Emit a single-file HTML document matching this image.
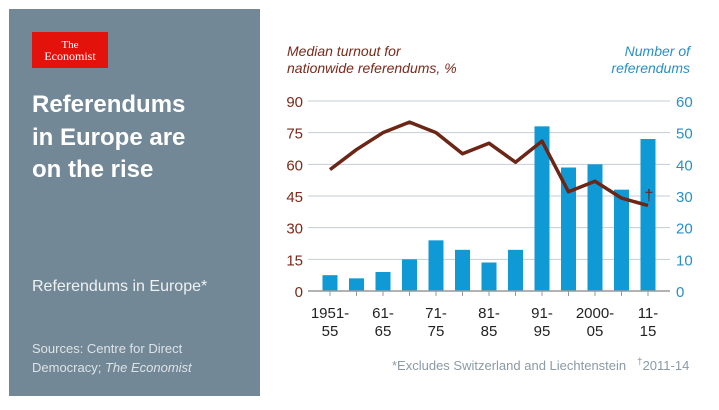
<!DOCTYPE html>
<html><head><meta charset="utf-8"><style>
body{margin:0;width:719px;height:405px;background:#fff;overflow:hidden;font-family:"Liberation Sans",sans-serif}
</style></head><body>
<svg width="719" height="405" viewBox="0 0 719 405" xmlns="http://www.w3.org/2000/svg">
<rect x="9" y="9" width="251" height="387" fill="#738896"/>
<rect x="32" y="32" width="76" height="36" fill="#e3120b"/>
<text x="70" y="48" fill="#fff" font-family="Liberation Serif,serif" font-size="11" text-anchor="middle">The</text>
<text x="70" y="60" fill="#fff" font-family="Liberation Serif,serif" font-size="12" text-anchor="middle">Economist</text>
<g fill="#fff" font-size="24" font-weight="bold">
<text x="32" y="112">Referendums</text><text x="32" y="145">in Europe are</text><text x="32" y="177">on the rise</text></g>
<text x="32" y="291" fill="#eef1f3" font-size="16">Referendums in Europe*</text>
<text x="32" y="353" fill="#dde3e7" font-size="13">Sources: Centre for Direct</text>
<text x="32" y="372" fill="#dde3e7" font-size="13">Democracy; <tspan font-style="italic">The Economist</tspan></text>
<text x="287" y="56" fill="#7a2a1a" font-size="14" font-style="italic">Median turnout for</text>
<text x="287" y="73" fill="#7a2a1a" font-size="14" font-style="italic">nationwide referendums, %</text>
<text x="690" y="56" fill="#2a8fc4" font-size="14" font-style="italic" text-anchor="end">Number of</text>
<text x="690" y="73" fill="#2a8fc4" font-size="14" font-style="italic" text-anchor="end">referendums</text>
<g id="plot"></g>
<text x="392" y="370" fill="#8a9aa6" font-size="13">*Excludes Switzerland and Liechtenstein</text>
<text x="637" y="370" fill="#8a9aa6" font-size="13"><tspan font-size="10" dy="-5">†</tspan><tspan dy="5">2011-14</tspan></text>
</svg>
<script>
const categories=["1951-55","56-60","61-65","66-70","71-75","76-80","81-85","86-90","91-95","96-2000","2000-05","06-10","11-15"];
const xLabelsTop=["1951-","61-","71-","81-","91-","2000-","11-"];
const xLabelsBottom=["55","65","75","85","95","05","15"];
const referendums=[5,4,6,10,16,13,9,13,52,39,40,32,48];
const turnout=[57.5,67,75,80,75,65,70,61,71,47,52,44,40.5];
const leftTicks=[0,15,30,45,60,75,90];
const rightTicks=[0,10,20,30,40,50,60];
const NS="http://www.w3.org/2000/svg",g=document.getElementById("plot");
const x0=330,step=26.5,yb=291,yt=101;
const X=i=>x0+i*step, YL=v=>yb-(v/90)*(yb-yt), YR=v=>yb-(v/60)*(yb-yt);
function mk(t,a,p){const e=document.createElementNS(NS,t);for(const k in a)e.setAttribute(k,a[k]);(p||g).appendChild(e);return e;}
leftTicks.forEach((v,i)=>{
 const l=mk("line",{x1:308,x2:670,y1:YL(v),y2:YL(v),stroke:"#c2cdd4","stroke-width":1});
 
 
 const t=mk("text",{x:303,y:YL(v)+6,fill:"#7a2a1a","font-size":15,"text-anchor":"end"});t.textContent=v;
 
 
 const r=mk("text",{x:676,y:YR(rightTicks[i])+6,fill:"#2a8fc4","font-size":15});r.textContent=rightTicks[i];
 
 
});
referendums.forEach((v,i)=>{
 const b=mk("rect",{x:X(i)-7.5,y:YR(v),width:15,height:yb-YR(v),fill:"#0f9ad6"});
 
 
});
const ax=mk("line",{x1:308,x2:670,y1:yb,y2:yb,stroke:"#999","stroke-width":1.5});


categories.forEach((c,i)=>{const t=mk("line",{x1:X(i),x2:X(i),y1:yb,y2:yb+5,stroke:"#999"});
 
 });
xLabelsTop.forEach((s,k)=>{
 const t=mk("text",{x:X(2*k),y:318,fill:"#222","font-size":15,"text-anchor":"middle"});t.textContent=s;
 
 
 const b=mk("text",{x:X(2*k),y:336,fill:"#222","font-size":15,"text-anchor":"middle"});b.textContent=xLabelsBottom[k];
 
 
});
const p=mk("polyline",{points:turnout.map((v,i)=>X(i)+","+YL(v)).join(" "),fill:"none",stroke:"#6b2616","stroke-width":3.5,"stroke-linejoin":"round"});


const d=mk("text",{x:X(12)+1,y:YL(turnout[12])-5,fill:"#6b2616","font-size":16,"text-anchor":"middle"});d.textContent="†";


</script>
</body></html>
